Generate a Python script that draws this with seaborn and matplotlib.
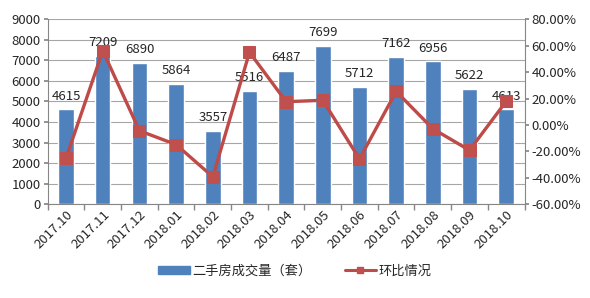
import matplotlib
matplotlib.use("Agg")
import matplotlib.pyplot as plt
import seaborn as sns
import pandas as pd
import numpy as np
from matplotlib.ticker import FuncFormatter, FixedLocator
from matplotlib.lines import Line2D
from matplotlib.patches import Patch

months = ["2017.10", "2017.11", "2017.12", "2018.01", "2018.02", "2018.03", "2018.04",
          "2018.05", "2018.06", "2018.07", "2018.08", "2018.09", "2018.10"]
volume = [4615, 7209, 6890, 5864, 3557, 5516, 6487, 7699, 5712, 7162, 6956, 5622, 4613]
mom = [-25.0, 56.2, -4.4, -14.9, -39.3, 55.1, 17.6, 18.7, -25.8, 25.4, -2.9, -19.2, 17.9]

bar_name = "二手房成交量（套）"
line_name = "环比情况"

sns.set_theme(style="white")
plt.rcParams["font.family"] = ["Noto Sans CJK SC", "DejaVu Sans"]

df = pd.DataFrame({"month": months, "volume": volume, "mom": mom})

fig = plt.figure(figsize=(5.9, 2.98), dpi=100)
ax = fig.add_axes([0.081, 0.315, 0.808, 0.62])
bar_color = "#4F81BD"
line_color = "#BE4B48"

sns.barplot(data=df, x="month", y="volume", color=bar_color, width=0.42,
            saturation=1, ax=ax, zorder=2)
ax.set_ylim(0, 9000)
ax.set_yticks(range(0, 9001, 1000))
ax.yaxis.grid(True, color="#A6A6A6", linewidth=0.8)
ax.set_axisbelow(True)
ax.set_xlabel("")
ax.set_ylabel("")
for s in ["top", "right"]:
    ax.spines[s].set_visible(False)
ax.spines["left"].set_color("#868686")
ax.spines["bottom"].set_color("#868686")
ax.spines["left"].set_linewidth(0.8)
ax.spines["bottom"].set_linewidth(0.8)
ax.tick_params(axis="y", labelsize=9.5, length=3, color="#868686", left=True, pad=2)
ax.tick_params(axis="x", which="major", labelsize=9.5, length=0, pad=3)
ax.xaxis.set_minor_locator(FixedLocator(np.arange(-0.5, len(months), 1.0)))
ax.tick_params(axis="x", which="minor", length=4, color="#868686", bottom=True)
plt.setp(ax.get_xticklabels(), rotation=45, ha="right", rotation_mode="anchor")

for i, v in enumerate(volume):
    ax.text(i, v + 330, str(v), ha="center", va="bottom", fontsize=9.5, color="#262626", zorder=5)

ax2 = ax.twinx()
sns.lineplot(data=df, x="month", y="mom", color=line_color, linewidth=2.4,
             marker="s", markersize=8.5, markerfacecolor="#C0504D",
             markeredgecolor="#C0504D", ax=ax2, zorder=4)
ax2.set_ylim(-60, 80)
ax2.set_yticks(range(-60, 81, 20))
ax2.yaxis.set_major_formatter(FuncFormatter(lambda v, p: f"{v:.2f}%"))
ax2.set_ylabel("")
ax2.set_xlabel("")
for s in ["top", "left", "bottom"]:
    ax2.spines[s].set_visible(False)
ax2.spines["right"].set_color("#868686")
ax2.spines["right"].set_linewidth(0.8)
ax2.tick_params(axis="y", labelsize=9.5, length=3, color="#868686", right=True, pad=2)
ax2.set_xlim(-0.5, len(months) - 0.5)
ax.set_xlim(-0.5, len(months) - 0.5)

handles = [Patch(facecolor=bar_color, edgecolor=bar_color),
           Line2D([0], [0], color=line_color, linewidth=2.2, marker="s", markersize=5,
                  markerfacecolor="#C0504D", markeredgecolor="#C0504D")]
fig.legend(handles, [bar_name, line_name], loc="center", bbox_to_anchor=(0.5, 0.09),
           ncol=2, frameon=False, fontsize=9.5, handlelength=2.4, handleheight=0.6,
           columnspacing=2.5, handletextpad=0.2)

fig.savefig("out.png", dpi=100, facecolor="white")
